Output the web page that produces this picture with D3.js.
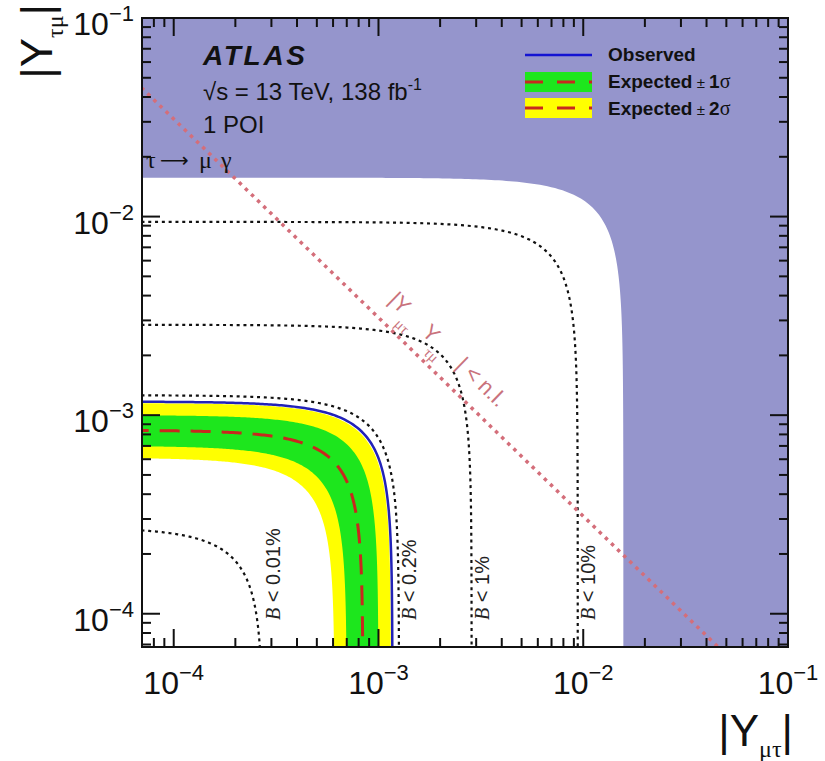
<!DOCTYPE html>
<html><head><meta charset="utf-8">
<script src="https://cdn.jsdelivr.net/npm/d3@7"></script>
<style>body{margin:0;background:#fff} svg{display:block}</style>
</head><body>
<svg id="chart" width="825" height="761"></svg>
<script>
// Axis ranges and ticks
const xDomain = [7e-5, 0.1];
const yDomain = [6.8e-5, 0.1];
const majorTicks = [1e-4, 1e-3, 1e-2, 1e-1];
const tickExponents = ["\u22124", "\u22123", "\u22122", "\u22121"];

// Branching-ratio iso-contours (radius in |Y_mt|,|Y_tm| plane)
const contourLabels = ["0.01%", "0.2%", "1%", "10%"];
const contourRadii = [2.72e-4, 1.26e-3, 2.85e-3, 9.4e-3];

// Limits (radius of the quarter-circle boundary)
const observedLimit = 1.17e-3;
const expectedLimit = 8.4e-4;
const expected1Sigma = [7.0e-4, 1.0e-3];
const expected2Sigma = [6.1e-4, 1.15e-3];
const tauMuGammaLimit = 1.57e-2;
const naturalnessLimit = 3.1e-6;

const plot = {left: 142, right: 788, top: 18, bottom: 647};
const x = d3.scaleLog().domain(xDomain).range([plot.left, plot.right]);
const y = d3.scaleLog().domain(yDomain).range([plot.bottom, plot.top]);

const SANS = "'Liberation Sans', Arial, Helvetica, sans-serif";
const SERIF = "'Liberation Serif', 'Times New Roman', serif";

const svg = d3.select("#chart");
svg.append("defs").append("clipPath").attr("id", "plotClip")
  .append("rect")
  .attr("x", plot.left).attr("y", plot.top)
  .attr("width", plot.right - plot.left).attr("height", plot.bottom - plot.top);

// Quarter circle |Y1|^2 + |Y2|^2 = r^2, sampled evenly in log space
const LO = 3e-5;
function arcPoints(r) {
  const n = 140, pts = [];
  const a = Math.log10(LO), b = Math.log10(r / Math.SQRT2);
  for (let i = 0; i <= n; i++) {
    const xv = Math.pow(10, a + (b - a) * i / n);
    pts.push([xv, Math.sqrt(r * r - xv * xv)]);
  }
  for (let i = 1; i <= n; i++) {
    const yv = Math.pow(10, b + (a - b) * i / n);
    pts.push([Math.sqrt(r * r - yv * yv), yv]);
  }
  return pts;
}
const line = d3.line().x(d => x(d[0])).y(d => y(d[1]));
const disc = r => line(arcPoints(r).concat([[LO, LO]])) + "Z";

const g = svg.append("g").attr("clip-path", "url(#plotClip)");

// tau -> mu gamma excluded region
g.append("rect")
  .attr("x", plot.left).attr("y", plot.top)
  .attr("width", plot.right - plot.left).attr("height", plot.bottom - plot.top)
  .attr("fill", "#9595cc");
g.append("path").attr("d", disc(tauMuGammaLimit)).attr("fill", "#ffffff");

// Expected bands
g.append("path").attr("d", disc(expected2Sigma[1])).attr("fill", "#ffff00");
g.append("path").attr("d", disc(expected1Sigma[1])).attr("fill", "#1de61d");
g.append("path").attr("d", disc(expected1Sigma[0])).attr("fill", "#ffff00");
g.append("path").attr("d", disc(expected2Sigma[0])).attr("fill", "#ffffff");

// Branching-ratio contours
contourRadii.forEach(r => {
  g.append("path").attr("d", line(arcPoints(r)))
    .attr("fill", "none").attr("stroke", "#111")
    .attr("stroke-width", 2.2).attr("stroke-dasharray", "3,3.8");
});

// Expected and observed limits
g.append("path").attr("d", line(arcPoints(expectedLimit)))
  .attr("fill", "none").attr("stroke", "#c8281e")
  .attr("stroke-width", 3).attr("stroke-dasharray", "20,11");
g.append("path").attr("d", line(arcPoints(observedLimit)))
  .attr("fill", "none").attr("stroke", "#2222b8").attr("stroke-width", 2.5);

// Naturalness limit |Y_mt Y_tm| = const
const natPts = [[xDomain[0] * 0.5, naturalnessLimit / (xDomain[0] * 0.5)],
                [naturalnessLimit / (yDomain[0] * 0.5), yDomain[0] * 0.5]];
g.append("path").attr("d", line(natPts))
  .attr("fill", "none").attr("stroke", "#d46e7a")
  .attr("stroke-width", 3.5).attr("stroke-dasharray", "3.5,5");

// Contour labels
contourLabels.forEach((lab, i) => {
  const t = svg.append("text")
    .attr("transform", `translate(${x(contourRadii[i]) + 17},620) rotate(-90)`)
    .attr("font-family", SANS).attr("font-size", 20).attr("fill", "#222");
  t.append("tspan").attr("font-family", SERIF).attr("font-style", "italic").text("B");
  t.append("tspan").text(" < " + lab);
});

// Naturalness label along the line
const angle = Math.atan2(y(1) - y(10), x(10) - x(1)) * 180 / Math.PI;
const natAnchorX = 9.6e-4;
const lab = svg.append("g")
  .attr("transform", `translate(${x(natAnchorX)},${y(naturalnessLimit / natAnchorX)}) rotate(${angle}) translate(0,-18)`)
  .attr("fill", "#c9727c");
const natParts = [
  {t: "|Y", at: 0, dy: 0, f: SANS, s: 22},
  {t: "\u03bc\u03c4", at: 21, dy: 13, f: SERIF, s: 15},
  {t: "Y", at: 46.6, dy: 0, f: SANS, s: 22},
  {t: "\u03c4\u03bc", at: 62, dy: 13, f: SERIF, s: 15},
  {t: "|", at: 94, dy: 0, f: SANS, s: 22},
  {t: "<", at: 106, dy: 0, f: SANS, s: 22},
  {t: "n.l.", at: 124.5, dy: 0, f: SANS, s: 22}
];
natParts.forEach(p => {
  lab.append("text").attr("x", p.at).attr("y", p.dy)
    .attr("font-family", p.f).attr("font-size", p.s).text(p.t);
});

// Frame and ticks
const axes = svg.append("g").attr("stroke", "#111").attr("stroke-width", 2);
const minor = [];
[1e-5, 1e-4, 1e-3, 1e-2].forEach(d => { for (let k = 2; k <= 9; k++) minor.push(k * d); });
const major = majorTicks;
const inX = v => v >= xDomain[0] && v <= xDomain[1];
const inY = v => v >= yDomain[0] && v <= yDomain[1];
[[major, 18], [minor, 9]].forEach(([vals, len]) => {
  vals.filter(inX).forEach(v => {
    axes.append("line").attr("x1", x(v)).attr("x2", x(v)).attr("y1", plot.bottom).attr("y2", plot.bottom - len);
    axes.append("line").attr("x1", x(v)).attr("x2", x(v)).attr("y1", plot.top).attr("y2", plot.top + len);
  });
  vals.filter(inY).forEach(v => {
    axes.append("line").attr("y1", y(v)).attr("y2", y(v)).attr("x1", plot.left).attr("x2", plot.left + len);
    axes.append("line").attr("y1", y(v)).attr("y2", y(v)).attr("x1", plot.right).attr("x2", plot.right - len);
  });
});
axes.append("rect")
  .attr("x", plot.left).attr("y", plot.top)
  .attr("width", plot.right - plot.left).attr("height", plot.bottom - plot.top)
  .attr("fill", "none");

// Tick labels
majorTicks.forEach((v, i) => {
  const tx = svg.append("text").attr("x", x(v)).attr("y", 694)
    .attr("text-anchor", "middle").attr("font-family", SANS).attr("font-size", 32).attr("fill", "#111");
  tx.append("tspan").text("10");
  tx.append("tspan").attr("font-size", 22).attr("dy", -14).text(tickExponents[i]);
  const ty = svg.append("text").attr("x", 134).attr("y", y(v) + 17)
    .attr("text-anchor", "end").attr("font-family", SANS).attr("font-size", 32).attr("fill", "#111");
  ty.append("tspan").text("10");
  ty.append("tspan").attr("font-size", 22).attr("dy", -14).text(tickExponents[i]);
});

// Axis titles
const xt = svg.append("text").attr("x", 793).attr("y", 746).attr("text-anchor", "end")
  .attr("font-family", SANS).attr("font-size", 44).attr("fill", "#111");
xt.append("tspan").text("|Y");
xt.append("tspan").attr("font-family", SERIF).attr("font-size", 24).attr("dy", 11).text("\u03bc\u03c4");
xt.append("tspan").attr("dy", -11).text("|");

const yt = svg.append("text").attr("transform", "translate(52,4) rotate(-90)").attr("text-anchor", "end")
  .attr("font-family", SANS).attr("font-size", 44).attr("fill", "#111");
yt.append("tspan").text("|Y");
yt.append("tspan").attr("font-family", SERIF).attr("font-size", 24).attr("dy", 11).text("\u03c4\u03bc");
yt.append("tspan").attr("dy", -11).text("|");

// ATLAS label
svg.append("text").attr("x", 203).attr("y", 65)
  .attr("font-family", SANS).attr("font-weight", "bold").attr("font-style", "italic")
  .attr("font-size", 28).attr("textLength", 102).attr("fill", "#111").text("ATLAS");
const en = svg.append("text").attr("x", 203).attr("y", 100)
  .attr("font-family", SANS).attr("font-size", 24).attr("fill", "#111");
en.append("tspan").text("\u221as = 13 TeV, 138 fb");
en.append("tspan").attr("font-size", 16).attr("dy", -10).text("-1");
svg.append("text").attr("x", 203).attr("y", 133)
  .attr("font-family", SANS).attr("font-size", 24).attr("fill", "#111").text("1 POI");

// tau -> mu gamma region label
const tmg = svg.append("text").attr("y", 168)
  .attr("font-family", SERIF).attr("font-size", 24).attr("fill", "#111");
tmg.append("tspan").attr("x", 146).text("\u03c4");
tmg.append("tspan").attr("x", 160).attr("font-family", "'DejaVu Sans', sans-serif").attr("font-size", 20).attr("dy", -1).text("\u27f6");
tmg.append("tspan").attr("x", 199).attr("dy", 1).text("\u03bc");
tmg.append("tspan").attr("x", 221).text("\u03b3");

// Legend
const leg = svg.append("g");
leg.append("line").attr("x1", 525).attr("x2", 592).attr("y1", 55).attr("y2", 55)
  .attr("stroke", "#1414d2").attr("stroke-width", 2.5);
leg.append("rect").attr("x", 525).attr("y", 72).attr("width", 67).attr("height", 20).attr("fill", "#1de61d");
leg.append("line").attr("x1", 525).attr("x2", 592).attr("y1", 82).attr("y2", 82)
  .attr("stroke", "#c8281e").attr("stroke-width", 3).attr("stroke-dasharray", "18,14");
leg.append("rect").attr("x", 525).attr("y", 98).attr("width", 67).attr("height", 20).attr("fill", "#ffff00");
leg.append("line").attr("x1", 525).attr("x2", 592).attr("y1", 108).attr("y2", 108)
  .attr("stroke", "#c8281e").attr("stroke-width", 3).attr("stroke-dasharray", "18,14");
const legText = [["Observed", null, 61], ["Expected", "1", 88], ["Expected", "2", 115]];
legText.forEach(([name, n, by]) => {
  const t = leg.append("text").attr("x", 608).attr("y", by)
    .attr("font-family", SANS).attr("font-size", 19).attr("font-weight", "bold").attr("fill", "#111");
  t.append("tspan").text(name);
  if (n) {
    t.append("tspan").attr("font-weight", "normal").attr("font-size", 15).text(" \u00b1 ");
    t.append("tspan").text(n);
    t.append("tspan").attr("font-family", SERIF).attr("font-weight", "normal").attr("font-size", 20).text("\u03c3");
  }
});
</script>
</body></html>
